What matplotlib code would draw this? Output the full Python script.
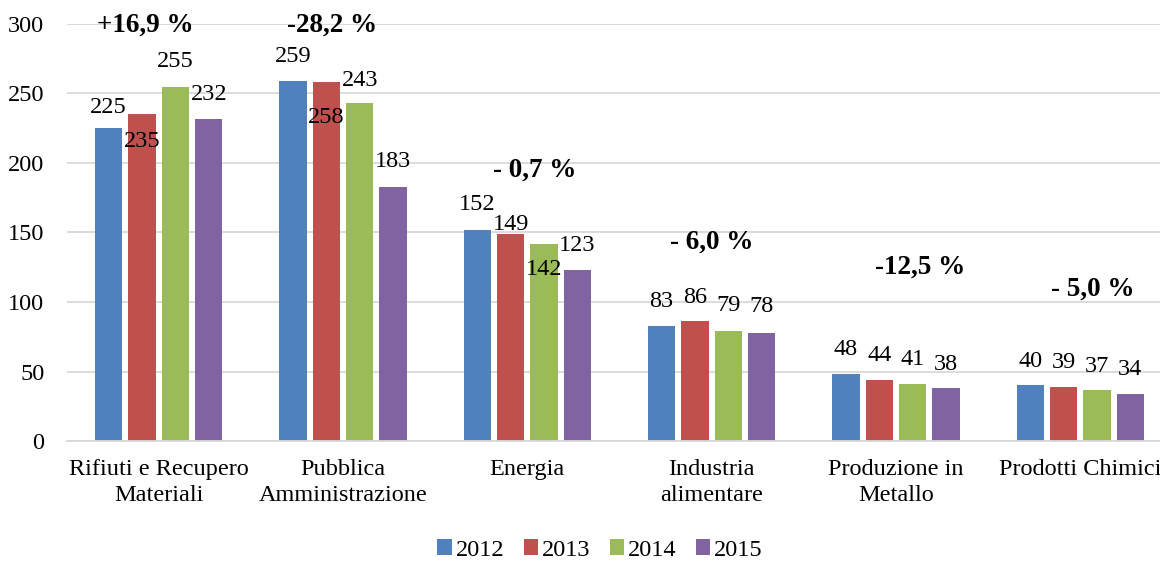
import numpy as np
import matplotlib
matplotlib.use('Agg')
import matplotlib.pyplot as plt

plt.rcParams['font.family'] = ['Liberation Serif', 'DejaVu Serif']

categories = ['Rifiuti e Recupero\nMateriali', 'Pubblica\nAmministrazione', 'Energia',
              'Industria\nalimentare', 'Produzione in\nMetallo', 'Prodotti Chimici']
years = ['2012', '2013', '2014', '2015']
v2012 = [225, 259, 152, 83, 48, 40]
v2013 = [235, 258, 149, 86, 44, 39]
v2014 = [255, 243, 142, 79, 41, 37]
v2015 = [232, 183, 123, 78, 38, 34]
changes = ['+16,9 %', '-28,2 %', '- 0,7 %', '- 6,0 %', '-12,5 %', '- 5,0 %']

colors = ['#4F81BD', '#C0504D', '#9BBB59', '#8064A2']

# label offsets (pixels above bar top), a few labels were moved into the bars
label_dy = [[21, -27, 25, 24],
            [24, -35, 23, 25],
            [25, 9, -26, 25],
            [24, 24, 26, 26],
            [25, 24, 25, 24],
            [24, 24, 23, 24]]
# where the percentage texts sit (x offset from group, y in data units)
chg_dx = [-0.07, -0.06, 0.04, 0.0, 0.13, 0.07]
chg_y = [299, 299, 195, 143, 125, 109]

fig = plt.figure(figsize=(11.6, 5.61), dpi=100)
ax = fig.add_axes([66.5/1160, 120/561, 1106/1160, 417/561])

series = [v2012, v2013, v2014, v2015]
x = np.arange(len(categories))
pitch = 0.181
for i, vals in enumerate(series):
    xs = x + (i - 1.5)*pitch
    bars = ax.bar(xs, vals, width=0.147, color=colors[i], label=years[i], zorder=2)
    for j, b in enumerate(bars):
        ax.annotate(str(vals[j]), (b.get_x() + b.get_width()/2, b.get_height()),
                    xytext=(0, label_dy[j][i]), textcoords='offset pixels',
                    ha='center', va='center', fontsize=17.5, zorder=3)

for j, txt in enumerate(changes):
    ax.text(x[j] + chg_dx[j], chg_y[j], txt, ha='center', va='center',
            fontsize=19.5, fontweight='bold')

ax.set_xlim(-0.5, 5.5)
ax.set_ylim(0, 300)
ax.set_yticks(np.arange(0, 301, 50))
ax.set_xticks(x)
ax.set_xticklabels(categories, fontsize=17.5, linespacing=1.3)
ax.tick_params(axis='y', length=0, pad=16, labelsize=17.5)
ax.tick_params(axis='x', length=0, pad=13)
ax.grid(axis='y', color='#d9d9d9', linewidth=1.3, zorder=0)
for s in ['top', 'right', 'left']:
    ax.spines[s].set_visible(False)
ax.spines['bottom'].set_color('#d9d9d9')
ax.spines['bottom'].set_linewidth(1.3)

fig.legend(loc='center', bbox_to_anchor=(600/1160, 1 - 550/561), ncol=4, frameon=False,
           fontsize=17.5, handlelength=0.6, handleheight=0.6, handletextpad=0.15,
           columnspacing=0.8)

plt.savefig('out.png', dpi=100)
